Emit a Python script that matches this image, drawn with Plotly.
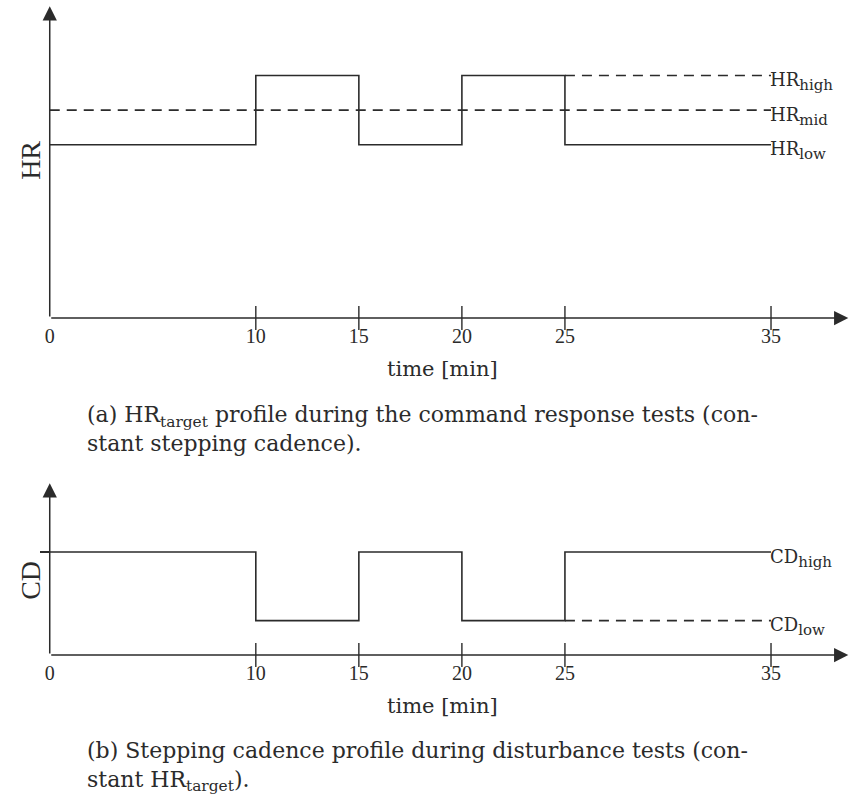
import plotly.graph_objects as go

# ---------------- data ----------------
time_steps = [0, 10, 15, 20, 25, 35]
hr_levels = {"low": 5, "mid": 6, "high": 7}
hr_profile = [5, 7, 5, 7, 5, 5]          # HR_target (solid)
hr_mid_x = [0, 35]
hr_mid_y = [6, 6]
hr_high_x = [25, 35]
hr_high_y = [7, 7]

cd_levels = {"low": 1, "high": 3}
cd_profile = [3, 1, 3, 1, 3, 3]          # stepping cadence (solid)
cd_low_x = [25, 35]
cd_low_y = [1, 1]

tick_vals = [0, 10, 15, 20, 25, 35]
tick_text = ["0", "10", "15", "20", "25", "35"]
cross_ticks = [10, 15, 20, 25, 35]

x_axis_end = 38.75
hr_axis_top = 9.0
cd_axis_top = 5.0

# ---------------- layout constants (pixels) ----------------
W, H = 850, 810
X0 = 45           # pixel of t=0
PX_PER_MIN = 20.73
TOP_AX_Y = 318
TOP_PX_UNIT = 34.65
BOT_AX_Y = 655
BOT_PX_UNIT = 34.33

def py(p):
    return min(1.0, max(0.0, 1 - p / H))

def px(p):
    return p / W

x_range = [0, (W - X0) / PX_PER_MIN]
top_range = [0, 9.15]
bot_range = [0, 5.2]

INK = "#2b2b2b"
NUMFONT = "Liberation Serif, DejaVu Serif, serif"
TXTFONT = "DejaVu Serif, Liberation Serif, serif"
LW = 1.6
DASH = "10px,7px"

fig = go.Figure()

tick_marker = dict(symbol="line-ns-open", size=17, color=INK, line=dict(color=INK, width=1.4))

# top panel traces
fig.add_trace(go.Scatter(x=time_steps, y=hr_profile, mode="lines", line=dict(color=INK, width=LW, shape="hv"),
                         xaxis="x", yaxis="y", showlegend=False, hoverinfo="skip"))
fig.add_trace(go.Scatter(x=hr_mid_x, y=hr_mid_y, mode="lines", line=dict(color=INK, width=LW, dash=DASH),
                         xaxis="x", yaxis="y", showlegend=False, hoverinfo="skip"))
fig.add_trace(go.Scatter(x=hr_high_x, y=hr_high_y, mode="lines", line=dict(color=INK, width=LW, dash=DASH),
                         xaxis="x", yaxis="y", showlegend=False, hoverinfo="skip"))
fig.add_trace(go.Scatter(x=cross_ticks, y=[0] * len(cross_ticks), mode="markers", marker=tick_marker,
                         cliponaxis=False, xaxis="x", yaxis="y", showlegend=False, hoverinfo="skip"))

# bottom panel traces
fig.add_trace(go.Scatter(x=time_steps, y=cd_profile, mode="lines", line=dict(color=INK, width=LW, shape="hv"),
                         xaxis="x2", yaxis="y2", showlegend=False, hoverinfo="skip"))
fig.add_trace(go.Scatter(x=cd_low_x, y=cd_low_y, mode="lines", line=dict(color=INK, width=LW, dash=DASH),
                         xaxis="x2", yaxis="y2", showlegend=False, hoverinfo="skip"))
fig.add_trace(go.Scatter(x=cross_ticks, y=[0] * len(cross_ticks), mode="markers", marker=tick_marker,
                         cliponaxis=False, xaxis="x2", yaxis="y2", showlegend=False, hoverinfo="skip"))

top_dom = [py(TOP_AX_Y), py(TOP_AX_Y - top_range[1] * TOP_PX_UNIT)]
bot_dom = [py(BOT_AX_Y), py(BOT_AX_Y - bot_range[1] * BOT_PX_UNIT)]

xcommon = dict(range=x_range, domain=[px(X0), 1], showgrid=False, zeroline=False, showline=False,
               tickvals=tick_vals, ticktext=tick_text, ticks="outside", ticklen=0,
               tickcolor="rgba(0,0,0,0)", tickfont=dict(family=NUMFONT, size=20, color=INK), fixedrange=True)

fig.update_layout(
    width=W, height=H, margin=dict(l=0, r=0, t=0, b=0),
    paper_bgcolor="white", plot_bgcolor="white",
    xaxis=dict(anchor="y", **xcommon),
    yaxis=dict(range=top_range, domain=top_dom, anchor="x", showgrid=False, zeroline=False, showline=False,
               showticklabels=False, ticks=""),
    xaxis2=dict(anchor="y2", **xcommon),
    yaxis2=dict(range=bot_range, domain=bot_dom, anchor="x2", showgrid=False, zeroline=False, showline=False,
                showticklabels=False, tickvals=[cd_levels["high"]], ticks="outside", ticklen=9,
                tickwidth=LW, tickcolor=INK),
)

ann = []
# axis arrows
for xr, yr, ytop in (("x", "y", hr_axis_top), ("x2", "y2", cd_axis_top)):
    ann.append(dict(x=x_axis_end, y=0, ax=0, ay=0, xref=xr, yref=yr, axref=xr, ayref=yr, text="",
                    showarrow=True, arrowhead=2, arrowsize=1.9, arrowwidth=1.5, arrowcolor=INK))
    ann.append(dict(x=0, y=ytop, ax=0, ay=0, xref=xr, yref=yr, axref=xr, ayref=yr, text="",
                    showarrow=True, arrowhead=2, arrowsize=1.9, arrowwidth=1.5, arrowcolor=INK))

lab_font = dict(family=TXTFONT, size=18, color=INK)
SUB = '<sub><span style="font-size:15px">{}</span></sub>'
for name, lvl in (("high", hr_levels["high"]), ("mid", hr_levels["mid"]), ("low", hr_levels["low"])):
    ann.append(dict(x=35, y=lvl, xref="x", yref="y", text="HR" + SUB.format(name), showarrow=False,
                    xanchor="left", yanchor="middle", xshift=-3, yshift=-6, font=lab_font))
for name, lvl in (("high", cd_levels["high"]), ("low", cd_levels["low"])):
    ann.append(dict(x=35, y=lvl, xref="x2", yref="y2", text="CD" + SUB.format(name), showarrow=False,
                    xanchor="left", yanchor="middle", xshift=-3, yshift=-6, font=lab_font))

# y labels
ann.append(dict(x=px(25), y=py(160), xref="paper", yref="paper", xanchor="center", yanchor="middle",
                text="HR", textangle=-90, showarrow=False, font=dict(family=NUMFONT, size=28, color=INK)))
ann.append(dict(x=px(25), y=py(580), xref="paper", yref="paper", xanchor="center", yanchor="middle",
                text="CD", textangle=-90, showarrow=False, font=dict(family=NUMFONT, size=28, color=INK)))
# x labels
for yy in (369, 706):
    ann.append(dict(x=px(440), y=py(yy), xref="paper", yref="paper", xanchor="center", yanchor="middle",
                    text="time [min]", showarrow=False, font=dict(family=TXTFONT, size=21, color=INK)))
# captions
cap_font = dict(family=TXTFONT, size=22, color=INK)
ann.append(dict(x=px(80), y=py(429), xref="paper", yref="paper", xanchor="left", yanchor="middle", align="left",
                showarrow=False, font=cap_font,
                text="(a) HR<sub>target</sub> profile during the command response tests (con-<br>stant stepping cadence)."))
ann.append(dict(x=px(80), y=py(766), xref="paper", yref="paper", xanchor="left", yanchor="middle", align="left",
                showarrow=False, font=cap_font,
                text="(b) Stepping cadence profile during disturbance tests (con-<br>stant HR<sub>target</sub>)."))

fig.update_layout(annotations=ann)
fig.write_html("out.html")
